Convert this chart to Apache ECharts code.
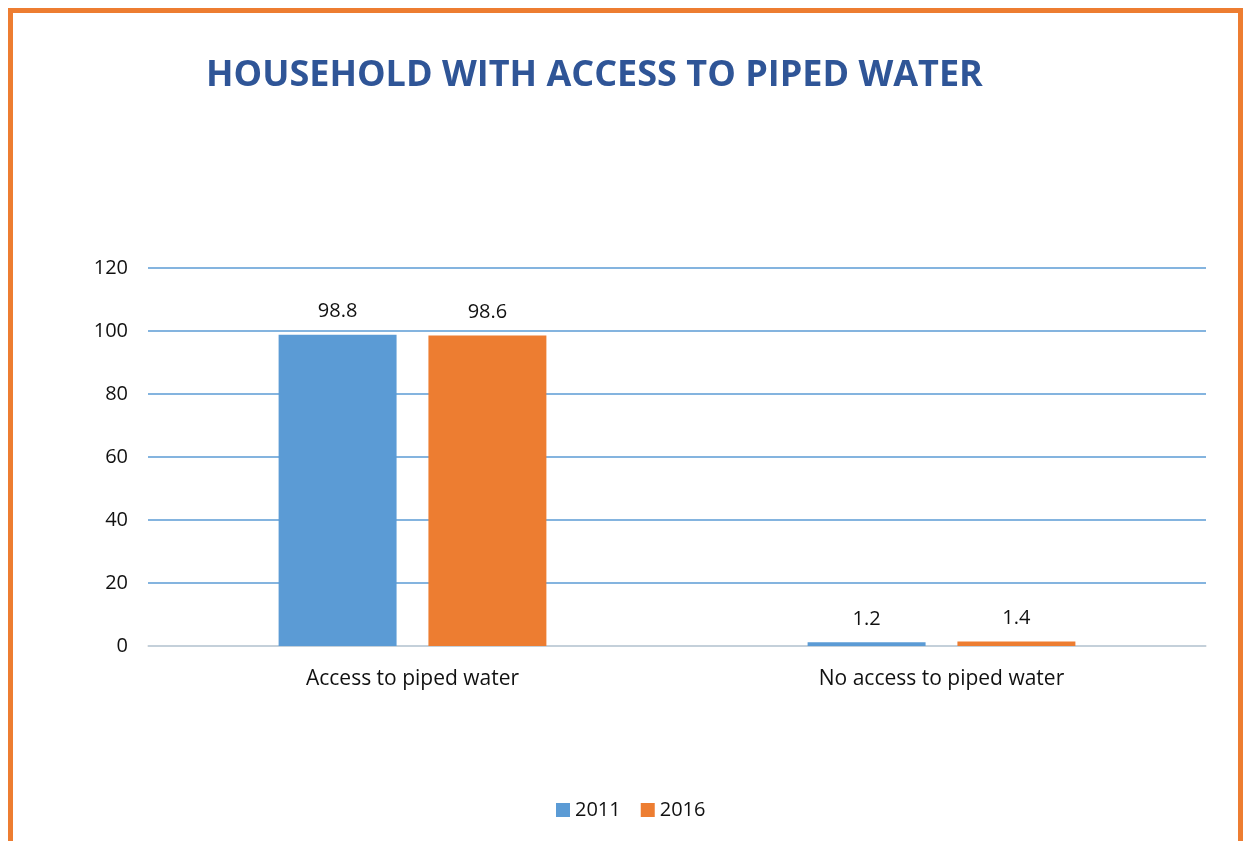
<!DOCTYPE html>
<html><head><meta charset="utf-8">
<script src="https://cdn.jsdelivr.net/npm/echarts@6/dist/echarts.min.js"></script>
<style>html,body{margin:0;padding:0;background:#fff}#c{width:1243px;height:841px}</style>
</head><body><div id="c"></div>
<script>
const categories = ['Access to piped water', 'No access to piped water'];
const series2011 = [98.8, 1.2];
const series2016 = [98.6, 1.4];
const seriesNames = ['2011', '2016'];
const yTicks = [0, 20, 40, 60, 80, 100, 120];

const chart = echarts.init(document.getElementById('c'), null, {renderer: 'canvas'});
const font = 'Open Sans, Liberation Sans, sans-serif';
chart.setOption({
  animation: false,
  backgroundColor: '#fff',
  graphic: [{
    type: 'rect', shape: {x: 10.5, y: 10.5, width: 1230, height: 900},
    style: {fill: 'none', stroke: '#ED7D31', lineWidth: 5}, silent: true
  }],
  title: {
    text: 'HOUSEHOLD WITH ACCESS TO PIPED WATER',
    left: 201, top: 53,
    textStyle: {fontFamily: font, fontWeight: 'bold', fontSize: 36, color: '#2F5597'}
  },
  legend: {
    data: seriesNames, top: 795, left: 551,
    itemWidth: 14, itemHeight: 14, itemGap: 20, icon: 'rect',
    textStyle: {fontFamily: font, fontSize: 20, color: '#111'}
  },
  grid: {left: 148, right: 37, top: 268, bottom: 195, containLabel: false},
  xAxis: {
    type: 'category', data: categories,
    axisLine: {lineStyle: {color: '#D9D9D9', width: 1.5}},
    axisTick: {show: false},
    axisLabel: {fontFamily: font, fontSize: 21, color: '#111', margin: 23}
  },
  yAxis: {
    type: 'value', min: 0, max: 120, interval: 20,
    axisLine: {show: false}, axisTick: {show: false},
    axisLabel: {fontFamily: font, fontSize: 20, color: '#111', margin: 20,
      formatter: v => yTicks.includes(v) ? String(v) : ''},
    splitLine: {lineStyle: {color: '#5B9BD5', width: 1.5}}
  },
  series: [
    {name: seriesNames[0], type: 'bar', data: series2011, barWidth: '22.3%', barGap: '27%',
      itemStyle: {color: '#5B9BD5'},
      label: {show: true, position: 'top', distance: 13, fontFamily: font, fontSize: 20, color: '#111'}},
    {name: seriesNames[1], type: 'bar', data: series2016, barWidth: '22.3%',
      itemStyle: {color: '#ED7D31'},
      label: {show: true, position: 'top', distance: 13, fontFamily: font, fontSize: 20, color: '#111'}}
  ]
});
</script></body></html>
